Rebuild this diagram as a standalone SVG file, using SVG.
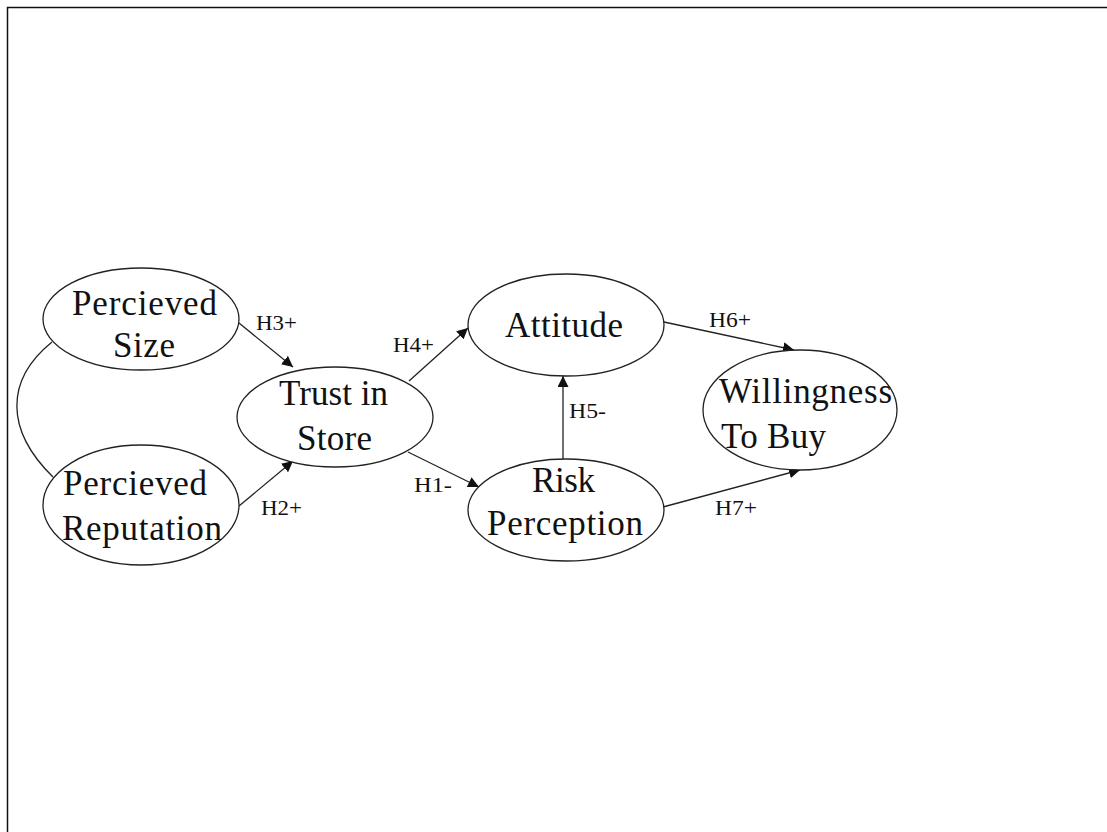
<svg xmlns="http://www.w3.org/2000/svg" width="1107" height="832" viewBox="0 0 1107 832">
  <style>
    .node ellipse { fill: #ffffff; stroke: #222222; stroke-width: 1.3; }
    .node text { font-family: "Liberation Serif", "Times New Roman", serif; font-size: 35px; fill: #111111; }
    .edge { fill: none; stroke: #222222; stroke-width: 1.3; }
    .lbl { font-family: "Liberation Serif", "Times New Roman", serif; font-size: 21px; fill: #111111; }
  </style>
  <defs>
    <marker id="arrow" viewBox="0 0 10 10" refX="10" refY="5" markerWidth="11" markerHeight="11" markerUnits="userSpaceOnUse" orient="auto">
      <path d="M0,0 L10,5 L0,10 z" fill="#111111"/>
    </marker>
  </defs>
  <rect width="1107" height="832" fill="#ffffff"/>
  <!-- frame: top and left edges only -->
  <path d="M7.5,832 V7.5 H1107" fill="none" stroke="#111111" stroke-width="1.5"/>

  <g id="connectors">
    <path class="edge" d="M52,342 C5,380 5,430 53,477"/>
    <line class="edge" x1="239" y1="323" x2="293" y2="367" marker-end="url(#arrow)"/>
    <line class="edge" x1="239" y1="506" x2="293" y2="461" marker-end="url(#arrow)"/>
    <line class="edge" x1="409" y1="381" x2="468" y2="328" marker-end="url(#arrow)"/>
    <line class="edge" x1="408" y1="452" x2="479" y2="487" marker-end="url(#arrow)"/>
    <line class="edge" x1="563" y1="459" x2="563" y2="376" marker-end="url(#arrow)"/>
    <line class="edge" x1="664" y1="322" x2="794" y2="350" marker-end="url(#arrow)"/>
    <line class="edge" x1="663" y1="507" x2="800" y2="470" marker-end="url(#arrow)"/>
    <text class="lbl" x="256" y="330" textLength="41" lengthAdjust="spacingAndGlyphs">H3+</text>
    <text class="lbl" x="261" y="515" textLength="41" lengthAdjust="spacingAndGlyphs">H2+</text>
    <text class="lbl" x="393" y="352" textLength="41" lengthAdjust="spacingAndGlyphs">H4+</text>
    <text class="lbl" x="414" y="492" textLength="38" lengthAdjust="spacingAndGlyphs">H1-</text>
    <text class="lbl" x="569" y="418" textLength="37" lengthAdjust="spacingAndGlyphs">H5-</text>
    <text class="lbl" x="709" y="327" textLength="42" lengthAdjust="spacingAndGlyphs">H6+</text>
    <text class="lbl" x="715" y="515" textLength="42" lengthAdjust="spacingAndGlyphs">H7+</text>
  </g>

  <g id="perceived-size" class="node">
    <ellipse cx="141" cy="319" rx="98" ry="51"/>
    <text x="72" y="315" textLength="145">Percieved</text>
    <text x="113" y="357" textLength="62">Size</text>
  </g>
  <g id="perceived-reputation" class="node">
    <ellipse cx="141" cy="505" rx="98" ry="60"/>
    <text x="63" y="495" textLength="144">Percieved</text>
    <text x="62" y="540" textLength="160">Reputation</text>
  </g>
  <g id="trust-in-store" class="node">
    <ellipse cx="335" cy="417" rx="98" ry="50"/>
    <text x="279" y="405" textLength="109">Trust in</text>
    <text x="297" y="450" textLength="75">Store</text>
  </g>
  <g id="attitude" class="node">
    <ellipse cx="566" cy="325" rx="98" ry="51"/>
    <text x="505" y="337" textLength="118">Attitude</text>
  </g>
  <g id="risk-perception" class="node">
    <ellipse cx="566" cy="510" rx="98" ry="51"/>
    <text x="532" y="492" textLength="63">Risk</text>
    <text x="487" y="535" textLength="156">Perception</text>
  </g>
  <g id="willingness-to-buy" class="node">
    <ellipse cx="800" cy="410" rx="97" ry="60"/>
    <text x="719" y="403" textLength="173">Willingness</text>
    <text x="721" y="448" textLength="105">To Buy</text>
  </g>
</svg>
